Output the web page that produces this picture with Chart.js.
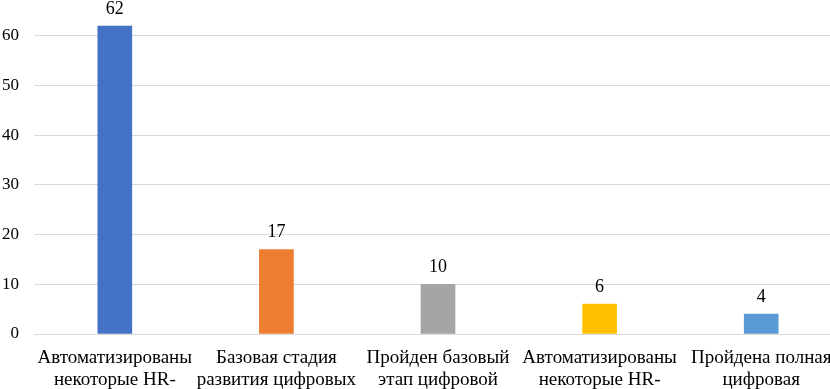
<!DOCTYPE html>
<html>
<head>
<meta charset="utf-8">
<script src="https://cdn.jsdelivr.net/npm/chart.js@4"></script>
<style>
  html, body { margin: 0; padding: 0; background: #fff; overflow: hidden; }
  #wrap { width: 830px; height: 389px; overflow: hidden; position: relative; }
  canvas { position: absolute; left: 0; top: -24px; }
</style>
</head>
<body>
<div id="wrap">
  <canvas id="chartEtapes" width="842" height="413"></canvas>
</div>
<script>
// Données
const categories = [
    ["Автоматизированы", "некоторые HR-"],
    ["Базовая стадия", "развития цифровых"],
    ["Пройден базовый", "этап цифровой"],
    ["Автоматизированы", "некоторые HR-"],
    ["Пройдена полная", "цифровая"]
];
const valeurs = [62, 17, 10, 6, 4];
const couleurs = ['#4472C4', '#ED7D31', '#A5A5A5', '#FFC000', '#5B9BD5'];
const yTicks = [0, 10, 20, 30, 40, 50, 60];

const police = "'Liberation Serif'";
Chart.defaults.font.family = police;
Chart.defaults.color = '#000';

// Plugin simple pour afficher les valeurs au-dessus des barres
const etiquettesValeurs = {
    id: 'etiquettesValeurs',
    afterDatasetsDraw(chart) {
        const ctx = chart.ctx;
        const meta = chart.getDatasetMeta(0);
        ctx.save();
        ctx.font = "18px " + police;
        ctx.fillStyle = '#000';
        ctx.textAlign = 'center';
        ctx.textBaseline = 'bottom';
        meta.data.forEach((bar, i) => {
            ctx.fillText(chart.data.datasets[0].data[i], bar.x, bar.y - 8);
        });
        ctx.restore();
    }
};

const canvas = document.getElementById('chartEtapes');

const chart = new Chart(canvas, {
    type: 'bar',
    data: {
        labels: categories,
        datasets: [{
            data: valeurs,
            backgroundColor: couleurs,
            borderWidth: 0,
            barThickness: 34
        }]
    },
    options: {
        responsive: false,
        animation: false,
        layout: { padding: 0 },
        plugins: {
            legend: { display: false },
            tooltip: { enabled: false }
        },
        scales: {
            x: {
                grid: { display: false },
                border: { display: false },
                afterFit(axis) { axis.height = 55; },
                ticks: {
                    color: '#000',
                    padding: 5,
                    maxRotation: 0,
                    autoSkip: false,
                    font: { family: police, size: 19, lineHeight: 1.17 }
                }
            },
            y: {
                min: 0,
                max: 67,
                border: { display: false },
                grid: { color: '#D9D9D9', lineWidth: 1, drawTicks: false },
                afterFit(axis) { axis.width = 34; },
                afterBuildTicks(axis) {
                    axis.ticks = yTicks.map(v => ({ value: v }));
                },
                ticks: {
                    color: '#000',
                    padding: 15,
                    font: { family: police, size: 17 }
                }
            }
        }
    },
    plugins: [etiquettesValeurs]
});
</script>
</body>
</html>
